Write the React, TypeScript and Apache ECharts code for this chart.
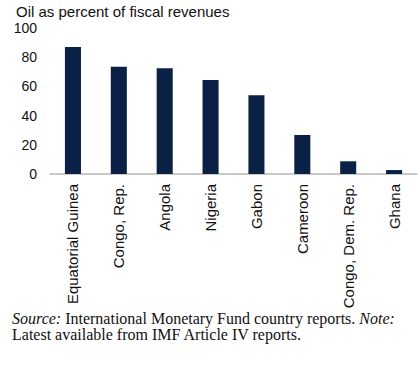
import React, { useEffect, useRef } from "react";
import * as echarts from "echarts";

const categories = [
  "Equatorial Guinea",
  "Congo, Rep.",
  "Angola",
  "Nigeria",
  "Gabon",
  "Cameroon",
  "Congo, Dem. Rep.",
  "Ghana",
];
const oilShare = [87, 73.5, 72.4, 64.4, 54, 26.7, 8.7, 2.7];
const yTicks = { min: 0, max: 100, interval: 20 };
const titleText = "Oil as percent of fiscal revenues";
const footLine1 = "{i|Source:} International Monetary Fund country reports. {i|Note:}";
const footLine2 = "Latest available from IMF Article IV reports.";

const SANS = "Liberation Sans, Arial, sans-serif";
const SERIF = "Liberation Serif, Times New Roman, serif";

export default function App() {
  const ref = useRef<HTMLDivElement>(null);
  useEffect(() => {
    document.body.style.margin = "0";
    const chart = echarts.init(ref.current!, null, { renderer: "svg" });
    chart.setOption({
      animation: false,
      backgroundColor: "#ffffff",
      title: {
        text: titleText,
        left: 16,
        top: 4,
        padding: 0,
        textStyle: {
          fontFamily: SANS,
          fontSize: 15,
          fontWeight: "normal",
          color: "#111111",
        },
      },
      grid: { left: 50, right: 3, top: 28, bottom: 196 },
      xAxis: {
        type: "category",
        data: categories,
        axisLine: { show: true, lineStyle: { color: "#b8b8b8", width: 1.5 } },
        axisTick: { show: false },
        axisLabel: {
          rotate: 90,
          margin: 10,
          interval: 0,
          color: "#111111",
          fontFamily: SANS,
          fontSize: 15,
        },
      },
      yAxis: {
        type: "value",
        min: yTicks.min,
        max: yTicks.max,
        interval: yTicks.interval,
        splitLine: { show: false },
        axisLine: { show: false },
        axisTick: { show: false },
        axisLabel: {
          margin: 13,
          color: "#111111",
          fontFamily: SANS,
          fontSize: 14,
        },
      },
      series: [
        {
          type: "bar",
          data: oilShare,
          barWidth: "35%",
          itemStyle: { color: "#0b2045" },
        },
      ],
      graphic: [
        {
          type: "text",
          x: 12,
          y: 318,
          style: {
            text: footLine1,
            fontFamily: SERIF,
            fontSize: 16,
            fill: "#111111",
            verticalAlign: "middle",
            rich: {
              i: {
                fontStyle: "italic",
                fontFamily: SERIF,
                fontSize: 16,
                fill: "#111111",
              },
            },
          },
        },
        {
          type: "text",
          x: 12,
          y: 334,
          style: {
            text: footLine2,
            fontFamily: SERIF,
            fontSize: 16,
            fill: "#111111",
            verticalAlign: "middle",
          },
        },
      ],
    });
    return () => chart.dispose();
  }, []);
  return <div ref={ref} style={{ width: 420, height: 370 }} />;
}
